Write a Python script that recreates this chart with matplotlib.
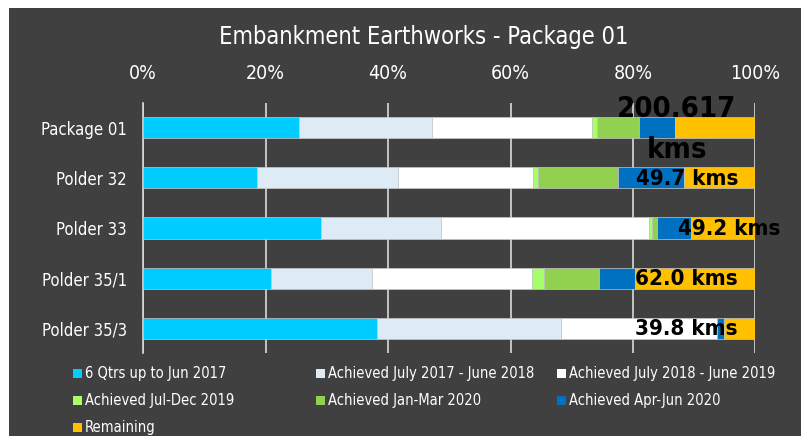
import matplotlib.pyplot as plt
import numpy as np
from matplotlib.patches import Rectangle

plt.rcParams['font.family'] = ['DejaVu Sans']
plt.rcParams['font.stretch'] = 'condensed'

BG = '#404040'

categories = ['Package 01', 'Polder 32', 'Polder 33', 'Polder 35/1', 'Polder 35/3']

series_names = ['6 Qtrs up to Jun 2017', 'Achieved July 2017 - June 2018',
                'Achieved July 2018 - June 2019', 'Achieved Jul-Dec 2019',
                'Achieved Jan-Mar 2020', 'Achieved Apr-Jun 2020', 'Remaining']
colors = ['#00CCFF', '#DDEBF7', '#FFFFFF', '#A6FF66', '#92D050', '#0070C0', '#FFC000']

# percent of total length, per package / polder
qtrs_2017 = [25.4, 18.5, 29.1, 20.9, 38.2]
jul17_jun18 = [21.7, 23.1, 19.5, 16.5, 30.0]
jul18_jun19 = [26.2, 22.1, 34.1, 26.1, 25.5]
jul_dec19 = [0.9, 0.8, 0.4, 1.9, 0.0]
jan_mar20 = [6.8, 13.1, 0.8, 9.0, 0.0]
apr_jun20 = [5.9, 10.7, 5.6, 5.9, 1.2]
remaining = [13.1, 11.7, 10.5, 19.7, 5.1]

length_labels = ['200.617\nkms', '49.7 kms', '49.2 kms', '62.0 kms', '39.8 kms']
label_x = [87.2, 88.8, 95.7, 88.8, 88.8]

data = [qtrs_2017, jul17_jun18, jul18_jun19, jul_dec19, jan_mar20, apr_jun20, remaining]

fig = plt.figure(figsize=(8.01, 4.36), dpi=100)
fig.patch.set_facecolor('white')
fig.patches.append(Rectangle((9 / 801, 0), 1, 1 - 8 / 436, transform=fig.transFigure,
                             facecolor=BG, edgecolor='none', zorder=-10))

ax = fig.add_axes([143.3 / 801, 1 - 353.3 / 436, 612 / 801, 250.6 / 436])
ax.set_facecolor(BG)

y = np.arange(len(categories))
left = np.zeros(len(categories))
for vals, c, name in zip(data, colors, series_names):
    ax.barh(y, vals, left=left, height=0.42, color=c, edgecolor='#C8C8C8',
            linewidth=0.5, label=name, zorder=3)
    left += np.array(vals)

for yi, (txt, lx) in enumerate(zip(length_labels, label_x)):
    if '\n' in txt:
        ax.text(lx, yi + 0.03, txt, ha='center', va='center', fontsize=21,
                fontweight='bold', color='black', linespacing=1.6, zorder=5)
    else:
        ax.text(lx, yi + 0.02, txt, ha='center', va='center', fontsize=16,
                fontweight='bold', color='black', zorder=5)

ax.set_xlim(0, 100)
ax.set_ylim(4.5, -0.5)
ax.set_xticks(np.arange(0, 101, 20))
ax.set_xticklabels([f'{v}%' for v in range(0, 101, 20)])
ax.xaxis.tick_top()
ax.tick_params(axis='x', length=0, colors='white', labelsize=14, pad=14)
ax.set_yticks(y)
ax.set_yticklabels(categories)
ax.tick_params(axis='y', length=0, colors='white', labelsize=12, pad=12)
ax.grid(axis='x', color='#D9D9D9', linewidth=1.2, zorder=0)
for s in ['top', 'right', 'bottom']:
    ax.spines[s].set_visible(False)
ax.spines['left'].set_color('#D9D9D9')
ax.spines['left'].set_linewidth(1.2)

fig.text(424 / 801, 1 - 37 / 436, 'Embankment Earthworks - Package 01', ha='center',
         va='center', color='white', fontsize=17)

# legend, three columns
col_x = [73, 316, 557]
row_y = [373, 400, 427]
for i, (name, c) in enumerate(zip(series_names, colors)):
    cx = col_x[i % 3]
    cy = row_y[i // 3]
    fig.patches.append(Rectangle((cx / 801, 1 - (cy + 4.5) / 436), 9 / 801, 9 / 436,
                                 transform=fig.transFigure, facecolor=c,
                                 edgecolor='none'))
    fig.text((cx + 12) / 801, 1 - cy / 436, name, ha='left', va='center',
             color='white', fontsize=10.5)

fig.savefig('out.png', dpi=100, facecolor=fig.get_facecolor())
